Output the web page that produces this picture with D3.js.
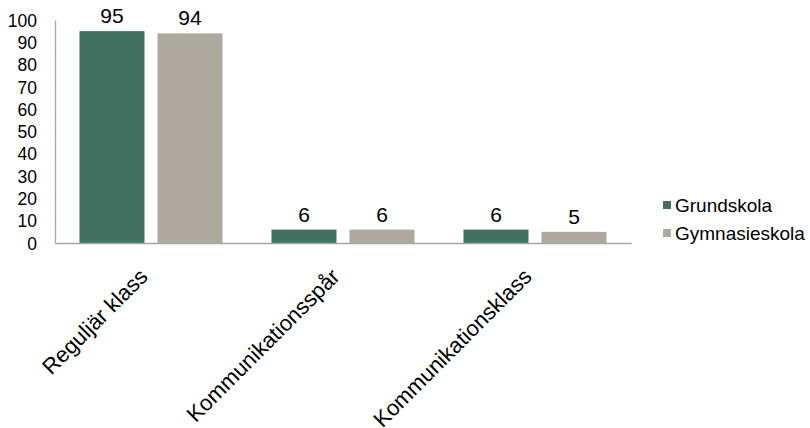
<!DOCTYPE html>
<html><head><meta charset="utf-8">
<script src="https://cdn.jsdelivr.net/npm/d3@7"></script>
<style>body{margin:0;background:#fff}svg{display:block}text{font-family:"Liberation Sans",Arial,sans-serif;fill:#000}</style>
</head><body>
<script>
const categories = ["Reguljär klass","Kommunikationsspår","Kommunikationsklass"];
const seriesNames = ["Grundskola","Gymnasieskola"];
const grundskola = [95,6,6];
const gymnasieskola = [94,6,5];
const yTicks = [0,10,20,30,40,50,60,70,80,90,100];
const colors = ["#427060","#ADA99E"];

const W=810,H=428;
const svg=d3.select("body").append("svg").attr("width",W).attr("height",H);
const x0=d3.scaleBand().domain(categories).range([55,631]).paddingInner(0.255).paddingOuter(0.1275);
const x1=d3.scaleBand().domain(seriesNames).range([0,x0.bandwidth()]).paddingInner(0.167);
const y=d3.scaleLinear().domain([0,100]).range([243,20]);
const color=d3.scaleOrdinal().domain(seriesNames).range(colors);
const values=[grundskola,gymnasieskola];

// y axis
const ya=svg.append("g").attr("transform","translate(55,0)").call(d3.axisLeft(y).tickValues(yTicks).tickSize(0).tickPadding(18));
ya.select(".domain").attr("stroke","#a6a6a6").attr("stroke-width",1.3);
ya.selectAll("text").style("font-size","17.5px").attr("font-family","Liberation Sans, Arial, sans-serif").attr("fill","#000").attr("dy","0.35em");

// bars
categories.forEach((c,ci)=>{
  seriesNames.forEach((s,si)=>{
    const v=values[si][ci];
    svg.append("rect").attr("x",x0(c)+x1(s)).attr("y",y(v)).attr("width",x1.bandwidth()).attr("height",y(0)-y(v)).attr("fill",color(s));
    svg.append("text").attr("x",x0(c)+x1(s)+x1.bandwidth()/2).attr("y",y(v)-8).attr("text-anchor","middle").style("font-size","21px").text(v);
  });
});

// x axis
const xa=svg.append("g").attr("transform","translate(0,243)").call(d3.axisBottom(x0).tickSize(0).tickPadding(0));
xa.select(".domain").attr("stroke","#a6a6a6").attr("stroke-width",1.3);
xa.selectAll("text").style("font-size","22px").attr("font-family","Liberation Sans, Arial, sans-serif").attr("fill","#000")
  .attr("text-anchor","end").attr("dy",null).attr("y",0)
  .attr("transform","translate(-2,35) rotate(-45)");

// legend
const lg=svg.append("g");
seriesNames.forEach((s,i)=>{
  lg.append("rect").attr("x",663).attr("y",201+i*28).attr("width",8).attr("height",8).attr("fill",color(s));
  lg.append("text").attr("x",675).attr("y",212+i*28).style("font-size","19px").text(s);
});
</script>
</body></html>
